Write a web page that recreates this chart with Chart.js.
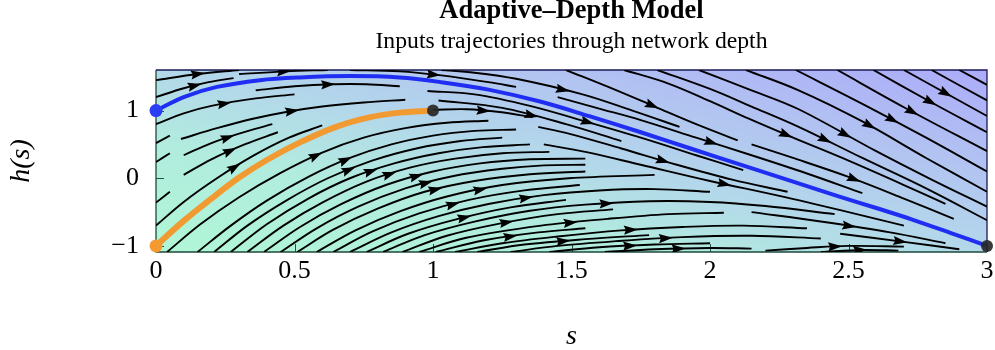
<!DOCTYPE html>
<html>
<head>
<meta charset="utf-8">
<style>
  html, body { margin: 0; padding: 0; background: #fff; }
</style>
<script src="https://cdn.jsdelivr.net/npm/chart.js@4.4.1/dist/chart.umd.min.js"></script>
</head>
<body>
<canvas id="chart" width="995" height="350"></canvas>
<script>
const titleText = 'Adaptive–Depth Model';
const subtitleText = 'Inputs trajectories through network depth';

const xTicks = [0, 0.5, 1, 1.5, 2, 2.5, 3];
const yTicks = [-1, 0, 1];

// trajectories of the two inputs
const blueS = [0, 0.1, 0.22, 0.375, 0.52, 0.7, 0.88, 1.03, 1.2, 1.39, 1.57, 1.75, 1.93, 2.11, 2.3, 2.45, 2.6, 2.73, 2.87, 3];
const blueH = [1, 1.2, 1.35, 1.45, 1.49, 1.51, 1.49, 1.42, 1.31, 1.13, 0.91, 0.68, 0.44, 0.2, -0.05, -0.25, -0.44, -0.61, -0.81, -1];
const orangeS = [0, 0.1, 0.2, 0.3, 0.4, 0.52, 0.65, 0.77, 0.88, 1];
const orangeH = [-1, -0.63, -0.3, 0.01, 0.27, 0.53, 0.76, 0.9, 0.97, 1];

const startS = [0, 0];
const startH = [1, -1];
const endS = [3, 1];
const endH = [-1, 1];

// streamlines of the vector field, [s, h] pairs
const streamlines = [
  // above the blue path
  [[0, 1.45], [0.15, 1.54], [0.3, 1.6]],
  [[0, 1.2], [0.1, 1.33], [0.19, 1.42], [0.28, 1.48]],
  [[0.3, 1.54], [0.47, 1.58], [0.62, 1.6]],
  [[0.7, 1.6], [0.88, 1.58], [1.03, 1.52], [1.2, 1.42], [1.3, 1.35]],
  [[1.03, 1.6], [1.15, 1.56], [1.3, 1.47], [1.54, 1.24], [1.72, 1.0], [1.89, 0.76]],
  [[1.45, 1.2], [1.6, 1.03], [1.75, 0.86], [1.95, 0.6], [2.15, 0.34], [2.35, 0.07], [2.55, -0.22]],
  [[1.48, 1.6], [1.65, 1.32], [1.8, 1.06], [1.95, 0.8], [2.1, 0.56]],
  [[2.15, 0.5], [2.3, 0.3], [2.5, 0.02], [2.7, -0.3], [2.88, -0.6]],
  [[1.69, 1.6], [1.85, 1.4], [2.0, 1.14], [2.14, 0.88], [2.3, 0.6], [2.5, 0.26], [2.7, -0.1], [2.85, -0.38]],
  [[1.81, 1.6], [2.0, 1.32], [2.15, 1.06], [2.32, 0.76], [2.55, 0.3], [2.78, -0.15], [3, -0.62]],
  [[1.96, 1.6], [2.15, 1.3], [2.32, 1.02], [2.6, 0.4], [2.8, -0.02], [3, -0.42]],
  [[2.13, 1.6], [2.32, 1.3], [2.55, 0.84], [2.78, 0.3], [3, -0.2]],
  [[2.31, 1.6], [2.55, 1.1], [2.78, 0.6], [3, 0.1]],
  [[2.46, 1.6], [2.7, 1.05], [3, 0.4]],
  [[2.59, 1.6], [2.8, 1.12], [3, 0.68]],
  [[2.7, 1.6], [2.85, 1.26], [3, 0.92]],
  [[2.8, 1.6], [3, 1.15]],
  [[2.9, 1.6], [3, 1.38]],
  // between the two paths
  [[0, 0.8], [0.1, 0.96], [0.2, 1.07], [0.36, 1.18], [0.5, 1.24]],
  [[0.09, 0.58], [0.22, 0.74], [0.35, 0.88], [0.47, 0.98], [0.6, 1.06], [0.75, 1.12], [0.9, 1.16]],
  [[0.36, 1.3], [0.5, 1.36], [0.64, 1.39], [0.76, 1.39], [0.88, 1.36]],
  [[0.98, 1.29], [1.15, 1.24], [1.35, 1.07], [1.55, 0.84], [1.75, 0.6], [1.95, 0.34], [2.12, 0.12]],
  [[1.02, 1.15], [1.25, 1.04], [1.48, 0.8], [1.68, 0.55]],
  [[1.0, 1.01], [1.12, 1.02], [1.24, 0.98], [1.36, 0.9]],
  [[0, 0.52], [0.05, 0.63]],
  [[0, 0.24], [0.05, 0.37]],
  [[0, -0.36], [0.05, -0.2]],
  [[0, -0.7], [0.1, -0.35], [0.22, 0.0], [0.35, 0.33], [0.48, 0.6], [0.6, 0.78]],
  [[0.1, 0.05], [0.2, 0.28], [0.32, 0.5], [0.44, 0.68]],
  [[0.1, 0.34], [0.2, 0.52], [0.3, 0.66], [0.42, 0.8]],
  // below the orange path
  [[0.04, -1.09], [0.16, -0.68], [0.3, -0.28], [0.45, 0.08], [0.6, 0.38], [0.75, 0.6], [0.9, 0.74], [1.05, 0.82], [1.2, 0.85]],
  [[0.15, -1.09], [0.27, -0.7], [0.4, -0.33], [0.55, 0.02], [0.7, 0.3], [0.85, 0.5], [1.0, 0.63], [1.15, 0.7], [1.3, 0.72]],
  [[0.21, -1.09], [0.33, -0.7], [0.47, -0.33], [0.62, 0.0], [0.78, 0.26], [0.94, 0.44], [1.1, 0.55], [1.25, 0.6]],
  [[0.27, -1.09], [0.4, -0.68], [0.55, -0.3], [0.7, 0.0], [0.86, 0.22], [1.02, 0.37], [1.18, 0.46], [1.35, 0.5]],
  [[0.33, -1.09], [0.46, -0.7], [0.6, -0.36], [0.76, -0.05], [0.92, 0.16], [1.08, 0.29], [1.25, 0.37], [1.42, 0.39]],
  [[0.39, -1.09], [0.52, -0.72], [0.67, -0.38], [0.83, -0.1], [1.0, 0.1], [1.17, 0.22], [1.35, 0.28], [1.55, 0.29]],
  [[0.45, -1.09], [0.58, -0.74], [0.73, -0.42], [0.9, -0.15], [1.07, 0.03], [1.25, 0.14], [1.4, 0.19], [1.55, 0.2]],
  [[0.51, -1.09], [0.64, -0.76], [0.8, -0.45], [0.97, -0.2], [1.15, -0.04], [1.35, 0.06], [1.55, 0.1]],
  [[0.58, -1.09], [0.72, -0.77], [0.88, -0.49], [1.05, -0.27], [1.25, -0.1], [1.49, 0.0], [1.8, 0.05]],
  [[0.64, -1.09], [0.78, -0.79], [0.95, -0.52], [1.13, -0.32], [1.33, -0.18], [1.53, -0.1]],
  [[0.7, -1.09], [0.85, -0.8], [1.02, -0.56], [1.2, -0.38], [1.4, -0.25], [1.6, -0.18], [1.8, -0.16], [2.0, -0.2]],
  [[0.76, -1.09], [0.91, -0.82], [1.09, -0.6], [1.28, -0.43], [1.48, -0.32]],
  [[0.82, -1.09], [0.97, -0.84], [1.15, -0.64], [1.35, -0.48], [1.55, -0.39], [1.78, -0.34], [2.0, -0.35], [2.2, -0.41], [2.45, -0.53]],
  [[0.89, -1.09], [1.05, -0.85], [1.24, -0.67], [1.45, -0.53], [1.65, -0.46]],
  [[0.95, -1.09], [1.12, -0.88], [1.39, -0.7], [1.63, -0.6], [1.85, -0.53], [2.05, -0.51]],
  [[1.01, -1.09], [1.18, -0.92], [1.38, -0.8], [1.55, -0.74]],
  [[1.08, -1.09], [1.25, -0.96], [1.45, -0.86], [1.68, -0.77], [1.9, -0.72], [2.12, -0.7], [2.35, -0.74]],
  [[1.16, -1.09], [1.33, -0.98], [1.55, -0.9], [1.78, -0.84]],
  [[1.28, -1.09], [1.45, -1.0], [1.66, -0.93], [1.9, -0.87], [2.15, -0.85], [2.4, -0.89]],
  [[1.42, -1.09], [1.6, -1.02], [1.8, -0.98], [2.0, -0.96]],
  [[1.62, -1.09], [1.8, -1.05], [2.0, -1.03], [2.15, -1.04]],
  // under the blue path, right side
  [[1.38, 0.76], [1.49, 0.66], [1.68, 0.44], [1.88, 0.2], [2.08, -0.02], [2.28, -0.2]],
  [[1.4, 0.5], [1.55, 0.39], [1.75, 0.2], [2.0, -0.04], [2.25, -0.26], [2.5, -0.5], [2.7, -0.7]],
  [[2.15, -0.5], [2.4, -0.64], [2.65, -0.8], [2.85, -0.96]],
  [[2.47, -0.82], [2.7, -0.94], [2.9, -1.05]],
  [[2.2, -1.07], [2.35, -1.03], [2.5, -1.0], [2.7, -1.01]],
  [[2.4, -1.09], [2.55, -1.06], [2.68, -1.07]]
];

function fmtTick(v) {
  return v < 0 ? '\u2212' + Math.abs(v) : String(v);
}

function drawArrow(ctx, pts) {
  const seg = [];
  let total = 0;
  for (let i = 1; i < pts.length; i++) {
    const l = Math.hypot(pts[i].x - pts[i - 1].x, pts[i].y - pts[i - 1].y);
    seg.push(l);
    total += l;
  }
  let half = total / 2, i = 0;
  while (i < seg.length - 1 && half > seg[i]) { half -= seg[i]; i++; }
  const a = pts[i], b = pts[i + 1];
  const t = seg[i] ? half / seg[i] : 0;
  const x = a.x + (b.x - a.x) * t, y = a.y + (b.y - a.y) * t;
  ctx.save();
  ctx.translate(x, y);
  ctx.rotate(Math.atan2(b.y - a.y, b.x - a.x));
  ctx.fillStyle = '#000';
  ctx.beginPath();
  ctx.moveTo(7.5, 0);
  ctx.lineTo(-6.5, -4.6);
  ctx.lineTo(-4.5, 0);
  ctx.lineTo(-6.5, 4.6);
  ctx.closePath();
  ctx.fill();
  ctx.restore();
}

const fieldPlugin = {
  id: 'field',
  beforeDatasetsDraw(chart) {
    const { ctx, chartArea: a, scales } = chart;
    const w = a.right - a.left, h = a.bottom - a.top;
    const L = Math.hypot(w, h);
    const nx = h / L, ny = -w / L, ext = w * h / L;
    const cx = (a.left + a.right) / 2, cy = (a.top + a.bottom) / 2;
    const g = ctx.createLinearGradient(cx - nx * ext, cy - ny * ext, cx + nx * ext, cy + ny * ext);
    g.addColorStop(0, '#b0f7d6');
    g.addColorStop(0.3, '#b1ecde');
    g.addColorStop(0.5, '#b3d8ea');
    g.addColorStop(0.72, '#b2c4f1');
    g.addColorStop(1, '#acabf9');
    ctx.save();
    ctx.fillStyle = g;
    ctx.fillRect(a.left, a.top, w, h);

    // inward tick marks
    ctx.strokeStyle = '#2a4f45';
    ctx.lineWidth = 1;
    xTicks.forEach(v => {
      const px = Math.round(scales.x.getPixelForValue(v)) + 0.5;
      ctx.beginPath(); ctx.moveTo(px, a.bottom); ctx.lineTo(px, a.bottom - 8); ctx.stroke();
    });
    yTicks.forEach(v => {
      const py = Math.round(scales.y.getPixelForValue(v)) + 0.5;
      ctx.beginPath(); ctx.moveTo(a.left, py); ctx.lineTo(a.left + 8, py); ctx.stroke();
    });

    // frame
    ctx.lineWidth = 1.3;
    ctx.strokeStyle = '#1d4a3c';
    ctx.beginPath(); ctx.moveTo(a.left, a.top); ctx.lineTo(a.left, a.bottom); ctx.lineTo(a.right, a.bottom); ctx.stroke();
    ctx.strokeStyle = '#1a1a55';
    ctx.beginPath(); ctx.moveTo(a.left, a.top); ctx.lineTo(a.right, a.top); ctx.lineTo(a.right, a.bottom); ctx.stroke();
    ctx.restore();
  },
  afterDatasetDraw(chart, args) {
    const ds = chart.data.datasets[args.index];
    if (!ds.stream || ds.data.length < 3) return;
    const pts = args.meta.data.map(p => ({ x: p.x, y: p.y }));
    const { ctx, chartArea: a } = chart;
    ctx.save();
    ctx.beginPath();
    ctx.rect(a.left, a.top, a.right - a.left, a.bottom - a.top);
    ctx.clip();
    drawArrow(ctx, pts);
    ctx.restore();
  },
  afterDraw(chart) {
    const { ctx, chartArea: a } = chart;
    const cx = (a.left + a.right) / 2;
    ctx.save();
    ctx.fillStyle = '#000';
    ctx.textAlign = 'center';
    ctx.textBaseline = 'alphabetic';
    ctx.font = 'bold 26.5px "Liberation Serif"';
    ctx.fillText(titleText, cx, 18);
    ctx.font = '23.7px "Liberation Serif"';
    ctx.fillText(subtitleText, cx, 48);
    ctx.restore();
  }
};

const streamSets = streamlines.map(line => ({
  data: line.map(([s, h]) => ({ x: s, y: h })),
  showLine: true,
  borderColor: '#000',
  borderWidth: 1.9,
  pointRadius: 0,
  tension: 0.35,
  order: 2,
  stream: true
}));

const datasets = [
  {
    data: endS.map((s, i) => ({ x: s, y: endH[i] })),
    pointRadius: 6,
    pointBackgroundColor: 'rgba(40,40,40,0.92)',
    pointBorderWidth: 0,
    clip: false,
    order: 0
  },
  {
    data: startS.map((s, i) => ({ x: s, y: startH[i] })),
    pointRadius: 6.5,
    pointBackgroundColor: ['#2a3ef5', '#f49a30'],
    pointBorderWidth: 0,
    clip: false,
    order: 0
  },
  {
    data: blueS.map((s, i) => ({ x: s, y: blueH[i] })),
    showLine: true,
    borderColor: '#1f2ef2',
    borderWidth: 4,
    pointRadius: 0,
    tension: 0.35,
    order: 1
  },
  {
    data: orangeS.map((s, i) => ({ x: s, y: orangeH[i] })),
    showLine: true,
    borderColor: '#f29a32',
    borderWidth: 6,
    pointRadius: 0,
    tension: 0.35,
    order: 1
  },
  ...streamSets
];

const serif = '"Liberation Serif", "DejaVu Serif", serif';

new Chart(document.getElementById('chart'), {
  type: 'scatter',
  data: { datasets },
  plugins: [fieldPlugin],
  options: {
    responsive: false,
    animation: false,
    events: [],
    layout: { padding: { top: 70, right: 8, left: 0, bottom: 0 } },
    plugins: { legend: { display: false }, tooltip: { enabled: false }, title: { display: false } },
    scales: {
      x: {
        type: 'linear',
        min: 0,
        max: 3,
        afterBuildTicks: (s) => { s.ticks = xTicks.map(v => ({ value: v })); },
        afterFit: (s) => { s.height = 98; },
        grid: { display: false },
        border: { display: false },
        ticks: { font: { family: serif, size: 26 }, color: '#000', padding: -4, maxRotation: 0, autoSkip: false, callback: fmtTick },
        title: { display: true, text: 's', font: { family: serif, size: 28, style: 'italic' }, color: '#000', padding: { top: 0, bottom: -3 } }
      },
      y: {
        type: 'linear',
        min: -1.09,
        max: 1.6,
        afterBuildTicks: (s) => { s.ticks = yTicks.map(v => ({ value: v })); },
        afterFit: (s) => { s.width = 156; },
        grid: { display: false },
        border: { display: false },
        ticks: { font: { family: serif, size: 26 }, color: '#000', padding: 9, autoSkip: false, callback: fmtTick },
        title: { display: true, text: 'h(s)', font: { family: serif, size: 28, style: 'italic' }, color: '#000', padding: { top: 5, bottom: 0 } }
      }
    }
  }
});
</script>
</body>
</html>
